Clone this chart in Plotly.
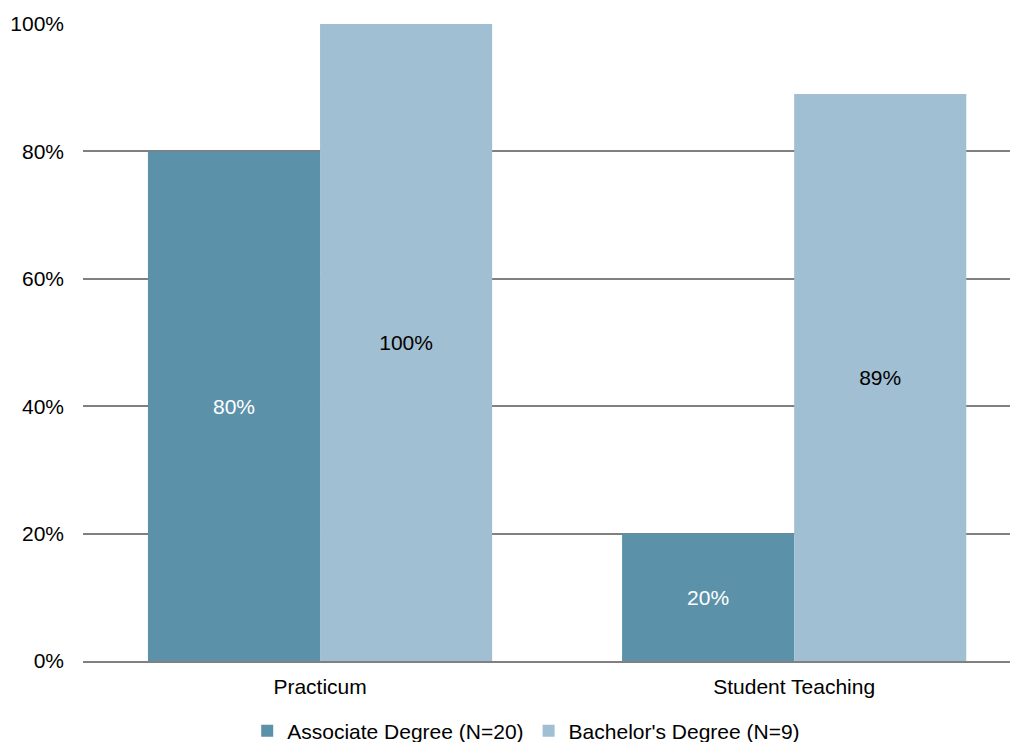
import plotly.graph_objects as go

categories = ["Practicum", "Student Teaching"]
associate = [80, 20]
bachelor = [100, 89]
series_names = ["Associate Degree (N=20)", "Bachelor's Degree (N=9)"]
y_ticks = [0, 20, 40, 60, 80, 100]
y_tick_labels = ["0%", "20%", "40%", "60%", "80%", "100%"]

FONT = "Liberation Sans, Arial, sans-serif"
FS = 21

fig = go.Figure()
fig.add_trace(go.Bar(
    x=categories, y=associate, name=series_names[0],
    marker=dict(color="#5B92AA", line=dict(width=0)),
    text=[f"{v}%" for v in associate], textposition="inside",
    insidetextanchor="middle", textangle=0,
    textfont=dict(color="white", size=FS, family=FONT),
))
fig.add_trace(go.Bar(
    x=categories, y=bachelor, name=series_names[1],
    marker=dict(color="#A0BFD2", line=dict(width=0)),
    text=[f"{v}%" for v in bachelor], textposition="inside",
    insidetextanchor="middle", textangle=0,
    textfont=dict(color="black", size=FS, family=FONT),
))

fig.update_layout(
    width=1018, height=742,
    margin=dict(l=75, r=0, t=16, b=89, autoexpand=False),
    paper_bgcolor="white", plot_bgcolor="white",
    barmode="group", bargap=0.274, bargroupgap=0,
    font=dict(family=FONT, size=FS, color="black"),
    showlegend=True,
    legend=dict(orientation="h", x=0.47, xanchor="center", y=-0.11, yanchor="middle",
                font=dict(size=FS, family=FONT), itemwidth=30, traceorder="normal"),
    uniformtext=dict(mode=False),
)
fig.update_xaxes(
    range=[-0.5, 1.489], showgrid=False, showline=True, linecolor="#808080", linewidth=1.5,
    ticks="", ticklabelstandoff=6, automargin=False,
    tickfont=dict(size=FS, family=FONT), fixedrange=True,
)
fig.update_yaxes(
    range=[0, 100], tickvals=y_ticks, ticktext=y_tick_labels,
    showgrid=True, gridcolor="#808080", gridwidth=1.5,
    zeroline=False, showline=False, ticks="", ticklabelstandoff=18, automargin=False,
    tickfont=dict(size=FS, family=FONT),
)

fig.write_html("out.html")
